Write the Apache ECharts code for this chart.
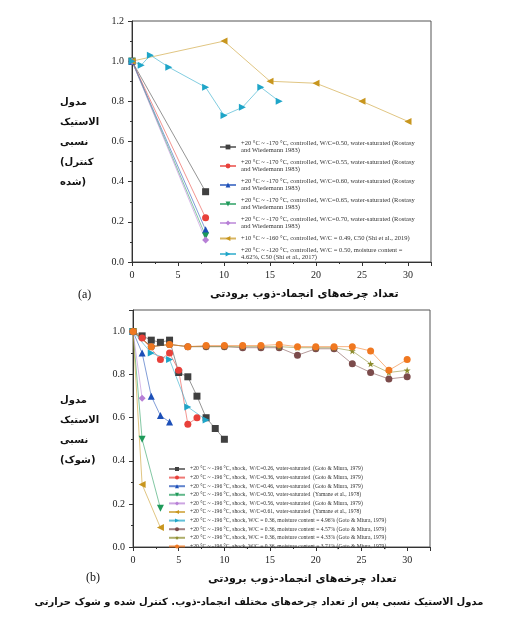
<!DOCTYPE html>
<html><head><meta charset="utf-8">
<script src="https://cdn.jsdelivr.net/npm/echarts@6/dist/echarts.min.js"></script>
<style>html,body{margin:0;padding:0;background:#fff}#c{width:518px;height:624px}</style>
</head><body><div id="c"></div>
<script>
// panel (a): controlled freezing
var aNames = [
  '+20 °C ~ -170 °C, controlled, W/C=0.50, water-saturated (Rostasy\nand Wiedemann 1983)',
  '+20 °C ~ -170 °C, controlled, W/C=0.55, water-saturated (Rostasy\nand Wiedemann 1983)',
  '+20 °C ~ -170 °C, controlled, W/C=0.60, water-saturated (Rostasy\nand Wiedemann 1983)',
  '+20 °C ~ -170 °C, controlled, W/C=0.65, water-saturated (Rostasy\nand Wiedemann 1983)',
  '+20 °C ~ -170 °C, controlled, W/C=0.70, water-saturated (Rostasy\nand Wiedemann 1983)',
  '+10 °C ~ -160 °C, controlled, W/C = 0.49, C50 (Shi et al., 2019)',
  '+20 °C ~ -120 °C, controlled, W/C = 0.50, moisture content =\n4.62%, C50 (Shi et al., 2017)'
];
var aData = [
  [[0,1],[8,0.35]],
  [[0,1],[8,0.22]],
  [[0,1],[8,0.16]],
  [[0,1],[8,0.13]],
  [[0,1],[8,0.11]],
  [[0,1],[10,1.1],[15,0.9],[20,0.89],[25,0.8],[30,0.7]],
  [[0,1],[1,0.98],[2,1.03],[4,0.97],[8,0.87],[10,0.73],[12,0.77],[14,0.87],[16,0.8]]
];
// panel (b): thermal shock
var bNames = [
  '+20 °C ~ -196 °C, shock,  W/C=0.26, water-saturated  (Goto & Miura, 1979)',
  '+20 °C ~ -196 °C, shock,  W/C=0.36, water-saturated  (Goto & Miura, 1979)',
  '+20 °C ~ -196 °C, shock,  W/C=0.46, water-saturated  (Goto & Miura, 1979)',
  '+20 °C ~ -196 °C, shock,  W/C=0.50, water-saturated  (Yamane et al., 1978)',
  '+20 °C ~ -196 °C, shock,  W/C=0.56, water-saturated  (Goto & Miura, 1979)',
  '+20 °C ~ -196 °C, shock,  W/C=0.61, water-saturated  (Yamane et al., 1978)',
  '+20 °C ~ -196 °C, shock, W/C = 0.36, moisture content = 4.96% (Goto & Miura, 1979)',
  '+20 °C ~ -196 °C, shock, W/C = 0.36, moisture content = 4.57% (Goto & Miura, 1979)',
  '+20 °C ~ -196 °C, shock, W/C = 0.36, moisture content = 4.33% (Goto & Miura, 1979)',
  '+20 °C ~ -196 °C, shock, W/C = 0.36, moisture content = 3.71% (Goto & Miura, 1979)'
];
var bData = [
  [[0,1],[1,0.98],[2,0.96],[3,0.95],[4,0.96],[5,0.81],[6,0.79],[7,0.70],[8,0.60],[9,0.55],[10,0.50]],
  [[0,1],[1,0.97],[3,0.87],[4,0.90],[5,0.82],[6,0.57],[7,0.60]],
  [[0,1],[1,0.90],[2,0.70],[3,0.61],[4,0.58]],
  [[0,1],[1,0.50],[3,0.18]],
  [[0,1],[1,0.69]],
  [[0,1],[1,0.29],[3,0.09]],
  [[0,1],[2,0.90],[4,0.87],[6,0.65],[8,0.59]],
  [[0,1],[2,0.93],[4,0.94],[6,0.93],[8,0.93],[10,0.93],[12,0.925],[14,0.925],[16,0.925],[18,0.89],[20,0.92],[22,0.92],[24,0.85],[26,0.81],[28,0.78],[30,0.79]],
  [[0,1],[2,0.93],[4,0.94],[6,0.93],[8,0.93],[10,0.93],[12,0.93],[14,0.93],[16,0.93],[18,0.925],[20,0.925],[22,0.925],[24,0.91],[26,0.85],[28,0.81],[30,0.82]],
  [[0,1],[2,0.93],[4,0.94],[6,0.93],[8,0.935],[10,0.935],[12,0.935],[14,0.935],[16,0.94],[18,0.93],[20,0.93],[22,0.93],[24,0.93],[26,0.91],[28,0.82],[30,0.87]]
];

var star = 'path://M50,0 L61,35 L98,35 L68,57 L79,91 L50,70 L21,91 L32,57 L2,35 L39,35 Z';
var aStyle = [
  ['#404040','rect',0],['#e8403a','circle',0],['#1c4fb8','triangle',0],['#1f9a5a','triangle',180],
  ['#b77fd6','diamond',0],['#c8961e','triangle',90],['#1ea5c8','triangle',-90]
];
var bStyle = aStyle.concat([['#7b4b4b','circle',0],['#8b8b2b',star,0],['#f07820','circle',0]]);

var serif = 'Liberation Serif';
var fa = 'DejaVu Sans';
function mk(names, data, styles, idx, size) {
  return names.map(function (n, i) {
    return {
      name: n, type: 'line', xAxisIndex: idx, yAxisIndex: idx, data: data[i],
      symbol: styles[i][1], symbolRotate: styles[i][2], symbolSize: size,
      lineStyle: {width: 0.8, color: styles[i][0], opacity: 0.7},
      itemStyle: {color: styles[i][0]}, animation: false
    };
  });
}
function xa(idx) {
  return {gridIndex: idx, type: 'value', min: 0, max: 32.5, interval: 5,
    axisLine: {lineStyle: {color: '#333'}}, axisTick: {inside: false, length: 4},
    minorTick: {show: true, splitNumber: 2, length: 2},
    splitLine: {show: false}, axisLabel: {color: '#222', fontFamily: serif, fontSize: 10, formatter: function (v) { return v % 5 === 0 ? v : ''; }}};
}
function ya(idx, max) {
  return {gridIndex: idx, type: 'value', min: 0, max: max, interval: 0.2,
    axisLine: {show: true, lineStyle: {color: '#333'}}, axisTick: {length: 4},
    minorTick: {show: true, splitNumber: 2, length: 2},
    splitLine: {show: false}, axisLabel: {color: '#222', fontFamily: serif, fontSize: 10, showMaxLabel: max === 1.2,
      formatter: function (v) { return v.toFixed(1); }}};
}
var chart = echarts.init(document.getElementById('c'));
chart.setOption({
  backgroundColor: '#fff',
  grid: [
    {left: 132, top: 21, width: 299, height: 241, show: true, borderColor: '#555', borderWidth: 1},
    {left: 133, top: 310, width: 297, height: 237, show: true, borderColor: '#555', borderWidth: 1}
  ],
  xAxis: [xa(0), xa(1)],
  yAxis: [ya(0, 1.2), ya(1, 1.1)],
  legend: [
    {data: aNames, orient: 'vertical', left: 214, top: 135, itemWidth: 16, itemHeight: 6, itemGap: 5,
      textStyle: {fontFamily: serif, fontSize: 6.5, color: '#333', lineHeight: 7}},
    {data: bNames, orient: 'vertical', left: 163, top: 461, itemWidth: 16, itemHeight: 5, itemGap: 2.6,
      textStyle: {fontFamily: serif, fontSize: 5.6, color: '#333'}}
  ],
  graphic: [
    {type: 'text', left: 60, top: 92, style: {text: 'مدول\nالاستیک\nنسبی\n(کنترل\nشده)', font: 'bold 10px "' + fa + '"', fill: '#111', lineHeight: 20, align: 'center'}},
    {type: 'text', left: 60, top: 390, style: {text: 'مدول\nالاستیک\nنسبی\n(شوک)', font: 'bold 10px "' + fa + '"', fill: '#111', lineHeight: 20, align: 'center'}},
    {type: 'text', left: 78, top: 289, style: {text: '(a)', font: '12px "' + serif + '"', fill: '#111'}},
    {type: 'text', left: 86, top: 572, style: {text: '(b)', font: '12px "' + serif + '"', fill: '#111'}},
    {type: 'text', left: 210, top: 289, style: {text: 'تعداد چرخه‌های انجماد-ذوب برودتی', font: 'bold 11px "' + fa + '"', fill: '#111'}},
    {type: 'text', left: 208, top: 574, style: {text: 'تعداد چرخه‌های انجماد-ذوب برودتی', font: 'bold 11px "' + fa + '"', fill: '#111'}},
    {type: 'text', left: 'center', top: 597, style: {text: 'مدول الاستیک نسبی پس از تعداد چرخه‌های مختلف انجماد-ذوب. کنترل شده و شوک حرارتی', font: 'bold 10px "' + fa + '"', fill: '#111'}}
  ],
  series: mk(aNames, aData, aStyle, 0, 7).concat(mk(bNames, bData, bStyle, 1, 7))
});
</script>
</body></html>
